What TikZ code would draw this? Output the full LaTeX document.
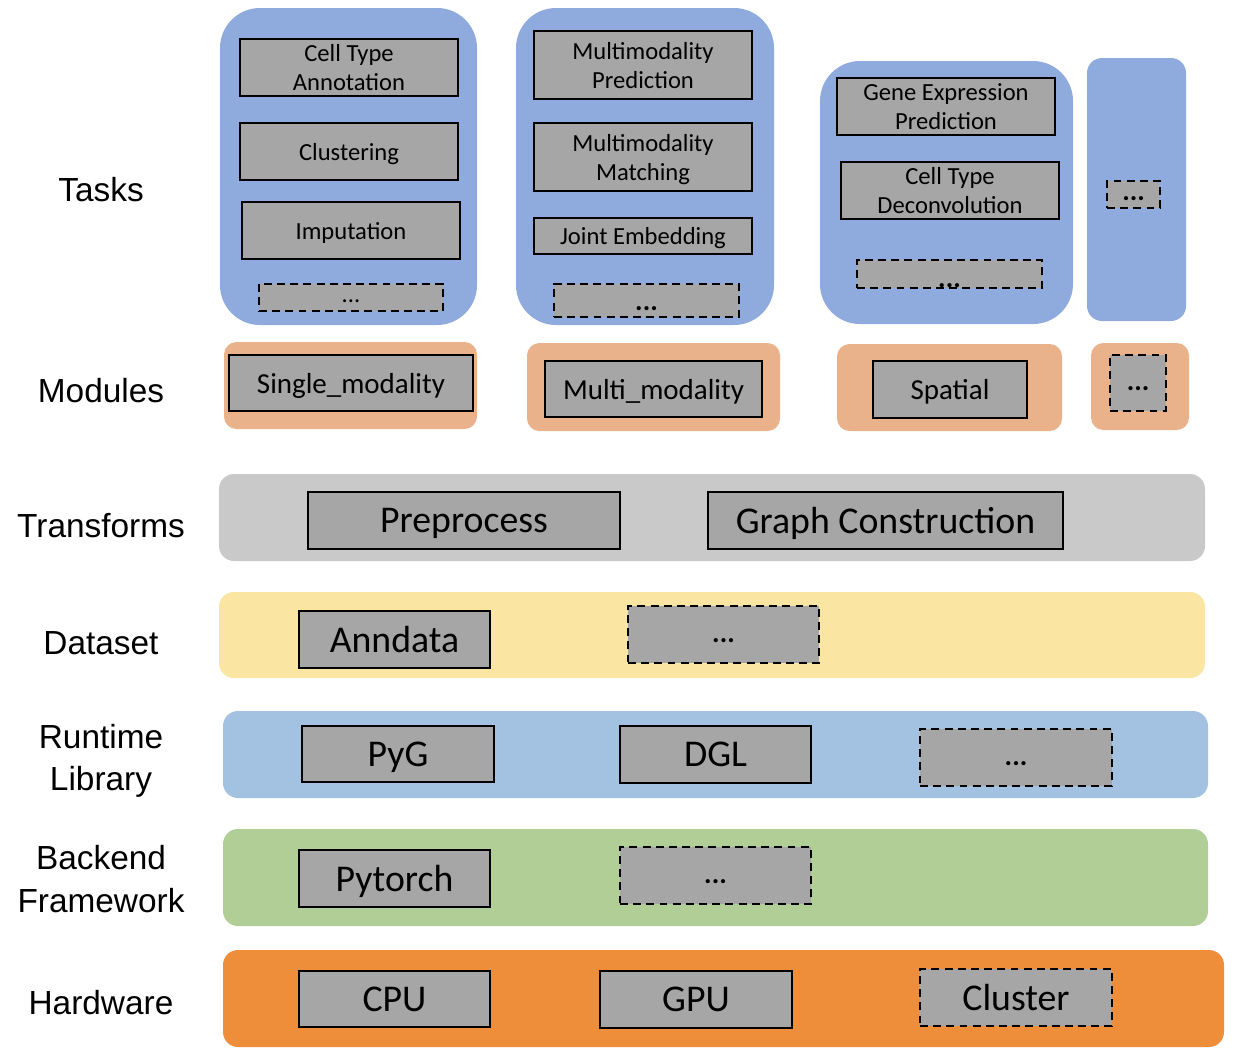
\documentclass[tikz,border=0pt]{standalone}
\usepackage{fontspec}
\setmainfont{Carlito}
\newfontfamily\layerfont{Liberation Sans}
\usetikzlibrary{fit}
\definecolor{taskblue}{HTML}{8FAADC}
\definecolor{modorange}{HTML}{EAB28A}
\definecolor{transgray}{HTML}{C9C9C9}
\definecolor{datayellow}{HTML}{FAE5A3}
\definecolor{runblue}{HTML}{A3C2E2}
\definecolor{backgreen}{HTML}{B0CE96}
\definecolor{hardorange}{HTML}{EE8E3B}
\definecolor{boxgray}{HTML}{A6A6A6}

\begin{document}
\begin{tikzpicture}[x=0.02cm, y=-0.02cm]
		\tikzstyle {gray box} = [draw=black, line width=1.1pt, fill=boxgray, inner sep=0pt, text depth=0pt, align=center, font=\fontsize{14}{16.5}\selectfont]
		\tikzstyle {dash box} = [gray box, dash pattern=on 4.5pt off 3pt]
		\tikzstyle {dots} = [text height=9pt, font=\fontsize{16}{18}\selectfont\bfseries]
		\tikzstyle {size} = [minimum width=#1*0.02cm]
		\tikzstyle {tall} = [minimum height=#1*0.02cm]
		\tikzstyle {big text} = [font=\fontsize{21.5}{24}\selectfont]
		\tikzstyle {mod text} = [font=\fontsize{16.5}{19}\selectfont]
		\tikzstyle {task panel} = [fill=taskblue, inner sep=0pt, rounded corners=0.8cm]
		\tikzstyle {mod panel} = [fill=modorange, inner sep=0pt, rounded corners=0.25cm]
		\tikzstyle {layer} = [inner sep=0pt, rounded corners=0.3cm]
		\tikzstyle {layer label} = [font=\layerfont\fontsize{19}{24}\selectfont, align=center]

		\useasboundingbox (0,0) rectangle (1234,1062);

		\node[layer label] (tasks) at (101,190) {Tasks};
		\node[layer label] (modules) at (101,391) {Modules};
		\node[layer label] (transforms) at (101,526) {Transforms};
		\node[layer label] (dataset) at (101,643) {Dataset};
		\node[layer label] (runtime) at (101,761) {Runtime\\ Library};
		\node[layer label] (backend) at (101,879) {Backend\\Framework};
		\node[layer label] (hardware) at (101,1003) {Hardware};

		\node[task panel, fit={(220,8) (477,325)}] (single tasks) {};
		\node[gray box, size=218, tall=57] (annotation) at (349,67.5) {Cell Type\\Annotation};
		\node[gray box, size=218, tall=57] (clustering) at (349,151.5) {Clustering};
		\node[gray box, size=218, tall=57] (imputation) at (351,230.5) {Imputation};
		\node[dash box, dots, size=184, tall=27, text height=6pt, font=\fontsize{14}{16}\selectfont] (single more) at (351,297.5) {...};

		\node[task panel, fit={(516,8) (774,325)}] (multi tasks) {};
		\node[gray box, size=218, tall=68] (prediction) at (643,65) {Multimodality\\Prediction};
		\node[gray box, size=218, tall=68] (matching) at (643,157) {Multimodality\\Matching};
		\node[gray box, size=218, tall=36] (embedding) at (643,236) {Joint Embedding};
		\node[dash box, dots, size=185, tall=33, text height=11pt] (multi more) at (646.5,300.5) {...};

		\node[task panel, fit={(820,61) (1073,324)}] (spatial tasks) {};
		\node[gray box, size=218, tall=57] (expression) at (946,106.5) {Gene Expression\\Prediction};
		\node[gray box, size=218, tall=57] (deconvolution) at (950,190.5) {Cell Type\\Deconvolution};
		\node[dash box, dots, size=185, tall=28, text height=15pt] (spatial more) at (949.5,274) {...};

		\node[task panel, rounded corners=0.3cm, fit={(1087,58) (1186,321)}] (other tasks) {};
		\node[dash box, dots, size=53, tall=27, text height=7pt] (other more) at (1133.5,194.5) {...};

		\node[mod panel, fit={(224,342) (477,429)}] (single panel) {};
		\node[gray box, mod text, size=244, tall=56] (single) at (351,383) {Single\_modality};
		\node[mod panel, fit={(527,343) (780,431)}] (multi panel) {};
		\node[gray box, mod text, size=217, tall=56] (multi) at (653.5,389) {Multi\_modality};
		\node[mod panel, fit={(837,344) (1062,431)}] (spatial panel) {};
		\node[gray box, mod text, size=154, tall=57] (spatial) at (950,389.5) {Spatial};
		\node[mod panel, fit={(1091,343) (1189,430)}] (other panel) {};
		\node[dash box, dots, size=56, tall=56] (other) at (1138,383) {...};

		\node[layer, fill=transgray, fit={(219,474) (1205,561)}] (transforms layer) {};
		\node[gray box, big text, size=312, tall=57] (preprocess) at (464,520.5) {Preprocess};
		\node[gray box, big text, size=355, tall=57] (graph) at (885.5,520.5) {Graph Construction};

		\node[layer, fill=datayellow, fit={(219,592) (1205,678)}] (dataset layer) {};
		\node[gray box, big text, size=191, tall=57] (anndata) at (394.5,639.5) {Anndata};
		\node[dash box, dots, size=191, tall=57] (data more) at (723.5,634.5) {...};

		\node[layer, fill=runblue, fit={(223,711) (1208,798)}] (runtime layer) {};
		\node[gray box, big text, size=192, tall=56] (pyg) at (398,754) {PyG};
		\node[gray box, big text, size=191, tall=57] (dgl) at (715.5,754.5) {DGL};
		\node[dash box, dots, size=192, tall=57] (runtime more) at (1016,757.5) {...};

		\node[layer, fill=backgreen, fit={(223,829) (1208,926)}] (backend layer) {};
		\node[gray box, big text, size=191, tall=57] (pytorch) at (394.5,878.5) {Pytorch};
		\node[dash box, dots, size=191, tall=57] (backend more) at (715.5,875.5) {...};

		\node[layer, fill=hardorange, fit={(223,950) (1224,1047)}] (hardware layer) {};
		\node[gray box, big text, size=191, tall=56] (cpu) at (394.5,999) {CPU};
		\node[gray box, big text, size=192, tall=57] (gpu) at (696,999.5) {GPU};
		\node[dash box, big text, size=192, tall=57] (cluster) at (1016,997.5) {Cluster};
	\end{tikzpicture}
\end{document}
